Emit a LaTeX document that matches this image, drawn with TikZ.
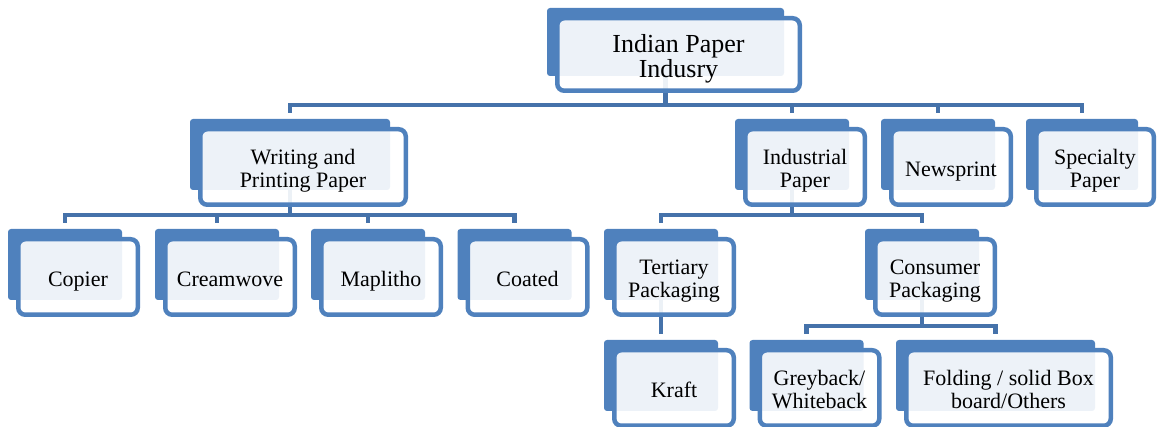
\documentclass[tikz,border=0pt]{standalone}
\usepackage{fontspec}
\setmainfont{Liberation Serif}
\usepackage{tikz}
\usetikzlibrary{positioning}

\definecolor{boxblue}{RGB}{79,129,189}
\definecolor{linkblue}{RGB}{69,114,170}

\pgfdeclarelayer{lines}
\pgfdeclarelayer{backs}
\pgfsetlayers{lines,backs,main}

% fixed line metrics so text sits the same with or without descenders
\newcommand{\topstrut}{\rule{0pt}{1.06em}}
\newcommand{\botstrut}{\rule[-0.22em]{0pt}{0.22em}}
\newcommand{\twolines}[2]{\rule{0pt}{1em}#1\\#2}

\begin{document}
\begin{tikzpicture}[x=1pt,y=-1pt,thick]
  \tikzset{tier/.style={draw=boxblue,line width=4.5pt,rounded corners=7pt,
      fill=white,fill opacity=0.9,text opacity=1,align=center,inner sep=2pt,
      minimum width=119.5pt,minimum height=75.5pt,
      font=\fontsize{22}{23}\selectfont,
      execute at begin node=\topstrut,execute at end node=\botstrut}}
  \tikzset{backbox/.style={fill=boxblue,rounded corners=3pt}}
  \tikzset{fork/.style={linkblue,line width=4.5pt,
      to path={([xshift=-13pt]\tikztostart.center)
        |- ([xshift=-13pt,yshift=22pt]\tikztotarget.north)
        -- ([xshift=-13pt,yshift=14pt]\tikztotarget.north)}}}

  \useasboundingbox (0,0) rectangle (1157,427);

  \node[tier,minimum width=242.5pt,minimum height=72.5pt,
        font=\fontsize{26}{25}\selectfont] (top) at (678.5,54.5) {\twolines{Indian Paper}{Indusry}};

  \node[tier,minimum width=205.5pt] (wpp) at (303,167) {\twolines{Writing and}{Printing Paper}};
  \node[tier] (ind) at (805,167) {\twolines{Industrial}{Paper}};
  \node[tier] (news) at (951,167) {Newsprint};
  \node[tier,minimum width=117.5pt] (spec) at (1095,167) {\twolines{Specialty}{Paper}};

  \node[tier] (copier) at (78,277) {Copier};
  \node[tier,minimum width=129.5pt] (cream) at (230,277) {Creamwove};
  \node[tier] (mapl) at (381,277) {Maplitho};
  \node[tier] (coated) at (527.5,277) {Coated};
  \node[tier] (tert) at (674,277) {\twolines{Tertiary}{Packaging}};
  \node[tier] (cons) at (935,277) {\twolines{Consumer}{Packaging}};

  \node[tier] (kraft) at (674,388) {Kraft};
  \node[tier] (grey) at (819.5,388) {\twolines{Greyback/}{Whiteback}};
  \node[tier,minimum width=204.5pt] (fold) at (1008.5,388) {\twolines{Folding / solid Box}{board/Others}};

  % blue blocks behind each box
  \begin{pgfonlayer}{backs}
    \foreach \n in {top,wpp,ind,news,spec,copier,cream,mapl,coated,tert,cons,kraft,grey,fold}
      \fill[backbox] ([xshift=-8pt,yshift=8pt]\n.north west)
        rectangle ([xshift=-18pt,yshift=17pt]\n.south east);
  \end{pgfonlayer}

  \begin{pgfonlayer}{lines}
    \path (top) edge[fork] (wpp) edge[fork] (ind) edge[fork] (news) edge[fork] (spec);
    \path (wpp) edge[fork] (copier) edge[fork] (cream) edge[fork] (mapl) edge[fork] (coated);
    \path (ind) edge[fork] (tert) edge[fork] (cons);
    \path (tert) edge[fork] (kraft);
    \path (cons) edge[fork] (grey) edge[fork] (fold);
  \end{pgfonlayer}
\end{tikzpicture}
\end{document}
